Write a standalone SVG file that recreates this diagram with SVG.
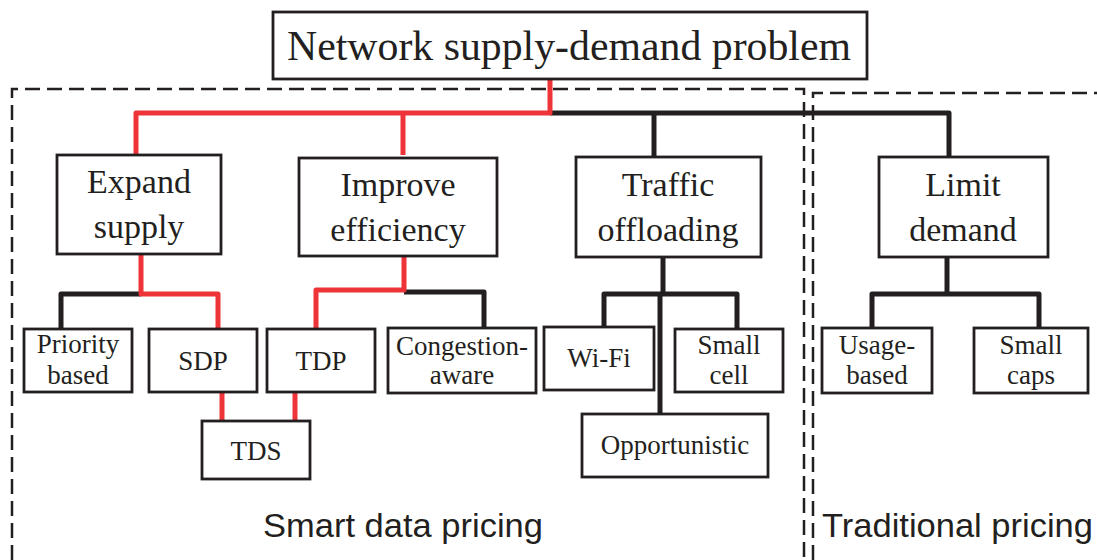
<svg xmlns="http://www.w3.org/2000/svg" width="1097" height="560" viewBox="0 0 1097 560">
<style>
.box{fill:#fff;stroke:#231f20;stroke-width:2.8}
.t{font-family:"Liberation Serif",serif;fill:#231f20;text-anchor:middle}
.big{font-size:34px}
.sm{font-size:27px}
.cap{font-family:"Liberation Sans",sans-serif;font-size:34px;fill:#231f20}
.k{stroke:#231f20;stroke-width:5;fill:none;stroke-linejoin:round}
.r{stroke:#ee3439;stroke-width:5;fill:none;stroke-linejoin:round}
.dash{stroke:#231f20;stroke-width:2.5;fill:none;stroke-dasharray:15 7}
</style>
<rect width="1097" height="560" fill="#fff"/>
<g id="regions">
<polyline class="dash" points="12,560 12,89 804,89 804,560"/>
<polyline class="dash" points="813,560 813,93 1097,93"/>
<text class="cap" x="263" y="537" textLength="280" lengthAdjust="spacingAndGlyphs">Smart data pricing</text>
<text class="cap" x="822" y="537" textLength="271" lengthAdjust="spacingAndGlyphs">Traditional pricing</text>
</g>
<g id="connectors">
<polyline class="k" points="550,113 949,113 949,160"/>
<line class="k" x1="654" y1="113" x2="654" y2="156"/>
<polyline class="r" points="550,79 550,113 136,113 136,156"/>
<line class="r" x1="403" y1="113" x2="403" y2="155"/>
<polyline class="k" points="61,330 61,294 141,294"/>
<polyline class="r" points="141,254 141,294 218,294 218,330"/>
<polyline class="k" points="404,292 484,292 484,329"/>
<polyline class="r" points="404,248 404,290 316,290 316,328"/>
<line class="r" x1="222" y1="392" x2="222" y2="421"/>
<line class="r" x1="295" y1="392" x2="295" y2="424"/>
<polyline class="k" points="604,328 604,294 737,294 737,330"/>
<line class="k" x1="663" y1="257" x2="663" y2="294"/>
<line class="k" x1="660" y1="294" x2="660" y2="415"/>
<polyline class="k" points="872,329 872,294 1039,294 1039,329"/>
<line class="k" x1="947" y1="257" x2="947" y2="294"/>
</g>
<g id="root"><rect class="box" x="273" y="12" width="594" height="67"/><text class="t" x="569" y="60" font-size="42" textLength="564" lengthAdjust="spacingAndGlyphs">Network supply-demand problem</text></g>
<g id="expand"><rect class="box" x="57" y="155" width="164" height="99"/><text class="t big" x="139" y="193">Expand</text><text class="t big" x="139" y="238">supply</text></g>
<g id="improve"><rect class="box" x="299" y="158" width="198" height="98"/><text class="t big" x="398" y="196">Improve</text><text class="t big" x="398" y="241">efficiency</text></g>
<g id="traffic"><rect class="box" x="576" y="157" width="185" height="100"/><text class="t big" x="668" y="196">Traffic</text><text class="t big" x="668" y="241">offloading</text></g>
<g id="limit"><rect class="box" x="879" y="157" width="169" height="100"/><text class="t big" x="963" y="196">Limit</text><text class="t big" x="963" y="241">demand</text></g>
<g id="priority"><rect class="box" x="24" y="329" width="108" height="63"/><text class="t sm" x="78" y="353">Priority</text><text class="t sm" x="78" y="384">based</text></g>
<g id="sdp"><rect class="box" x="149" y="329" width="108" height="63"/><text class="t sm" x="203" y="370">SDP</text></g>
<g id="tdp"><rect class="box" x="267" y="329" width="108" height="63"/><text class="t sm" x="321" y="370">TDP</text></g>
<g id="congestion"><rect class="box" x="388" y="328" width="148" height="65"/><text class="t sm" x="462" y="355">Congestion-</text><text class="t sm" x="462" y="384">aware</text></g>
<g id="tds"><rect class="box" x="202" y="421" width="108" height="58"/><text class="t sm" x="256" y="460">TDS</text></g>
<g id="wifi"><rect class="box" x="544" y="327" width="110" height="63"/><text class="t sm" x="599" y="367">Wi-Fi</text></g>
<g id="smallcell"><rect class="box" x="675" y="329" width="108" height="63"/><text class="t sm" x="729" y="354">Small</text><text class="t sm" x="729" y="384">cell</text></g>
<g id="opportunistic"><rect class="box" x="582" y="414" width="186" height="63"/><text class="t sm" x="675" y="454">Opportunistic</text></g>
<g id="usage"><rect class="box" x="822" y="328" width="110" height="65"/><text class="t sm" x="877" y="354">Usage-</text><text class="t sm" x="877" y="384">based</text></g>
<g id="smallcaps"><rect class="box" x="974" y="328" width="114" height="65"/><text class="t sm" x="1031" y="354">Small</text><text class="t sm" x="1031" y="384">caps</text></g>
</svg>
